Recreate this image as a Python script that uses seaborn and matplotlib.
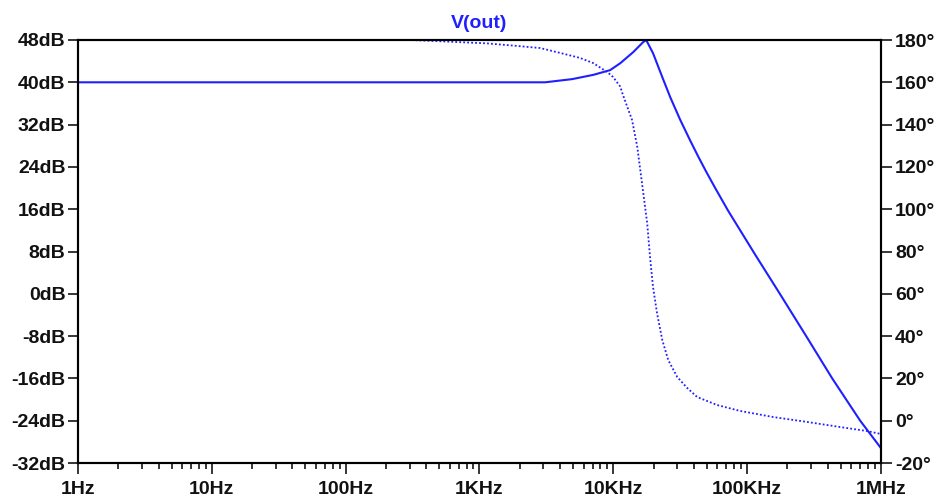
import matplotlib
matplotlib.use("Agg")
import matplotlib.pyplot as plt
import pandas as pd
import seaborn as sns
from matplotlib.ticker import FixedLocator, FixedFormatter, LogLocator, NullFormatter

# ---- data (LTspice Bode plot of V(out)) ----
freq_mag = [1, 3090, 4920, 7060, 9460, 11250, 14070, 16700, 17600, 19800, 23200,
            26600, 31600, 37500, 43000, 49400, 57700, 72100, 114800, 176500,
            276000, 432000, 699000, 1000000]
mag_db = [40.0, 40.0, 40.6, 41.4, 42.3, 43.6, 45.7, 47.6, 48.0, 45.5, 41.0,
          37.2, 32.9, 29.0, 26.0, 23.1, 20.0, 15.7, 7.4, -0.1,
          -8.0, -16.0, -24.0, -29.2]

freq_phase = [1, 300, 508, 1140, 1750, 2840, 4000, 5650, 7060, 8990, 9960, 11250,
              11800, 13800, 15100, 16400, 17900, 18800, 19800, 21200, 23200,
              25700, 30000, 35600, 42300, 59700, 88700, 156000, 281000, 496000,
              789000, 1000000]
phase_deg = [180.0, 180.0, 179.4, 178.4, 177.4, 176.2, 173.9, 171.5, 169.1, 164.9,
             162.5, 158.0, 154.0, 142.2, 129.4, 112.0, 93.5, 77.4, 63.2, 50.9,
             38.2, 28.7, 20.7, 15.5, 11.2, 7.4, 4.6, 1.75, -0.6, -3.0, -4.9, -6.3]

x_tick_vals = [1, 10, 100, 1e3, 1e4, 1e5, 1e6]
x_tick_labels = ["1Hz", "10Hz", "100Hz", "1KHz", "10KHz", "100KHz", "1MHz"]
db_ticks = [-32, -24, -16, -8, 0, 8, 16, 24, 32, 40, 48]
db_labels = ["-32dB", "-24dB", "-16dB", "-8dB", "0dB", "8dB", "16dB", "24dB",
             "32dB", "40dB", "48dB"]
deg_ticks = [-20, 0, 20, 40, 60, 80, 100, 120, 140, 160, 180]
deg_labels = ["-20°", "0°", "20°", "40°", "60°", "80°", "100°", "120°", "140°",
              "160°", "180°"]
title_text = "V(out)"

BLUE = "#1f1fff"

sns.set_theme(style="white")
plt.rcParams["font.family"] = ["Liberation Sans", "DejaVu Sans"]
plt.rcParams["font.weight"] = "bold"

fig = plt.figure(figsize=(9.4, 4.99), dpi=100)
fig.patch.set_facecolor("white")
ax = fig.add_axes([78 / 940, 36 / 499, (881 - 78) / 940, 423 / 499])
ax.set_xscale("log")

df_mag = pd.DataFrame({"f": freq_mag, "db": mag_db})
df_ph = pd.DataFrame({"f": freq_phase, "deg": phase_deg})

sns.lineplot(data=df_mag, x="f", y="db", ax=ax, color=BLUE, linewidth=1.5)
ax2 = ax.twinx()
sns.lineplot(data=df_ph, x="f", y="deg", ax=ax2, color=BLUE, linewidth=1.3,
             linestyle=(0, (1, 1.2)))

ax.set_xlim(1, 1e6)
ax.set_ylim(-32, 48)
ax2.set_ylim(-20, 180)

ax.set_xlabel("")
ax.set_ylabel("")
ax2.set_ylabel("")
ax2.set_xlabel("")

FS = 14
ax.xaxis.set_major_locator(FixedLocator(x_tick_vals))
ax.xaxis.set_major_formatter(FixedFormatter(x_tick_labels))
ax.xaxis.set_minor_locator(LogLocator(base=10, subs=range(2, 10), numticks=20))
ax.xaxis.set_minor_formatter(NullFormatter())
ax.yaxis.set_major_locator(FixedLocator(db_ticks))
ax.yaxis.set_major_formatter(FixedFormatter(db_labels))
ax2.yaxis.set_major_locator(FixedLocator(deg_ticks))
ax2.yaxis.set_major_formatter(FixedFormatter(deg_labels))

ax.tick_params(axis="x", which="major", direction="out", length=8, width=1.1,
               color="black", pad=5, labelsize=FS, bottom=True, top=False)
ax.tick_params(axis="x", which="minor", direction="out", length=4, width=1.1,
               color="black", bottom=True, top=False)
ax.tick_params(axis="y", which="major", direction="out", length=7, width=1.1,
               color="black", pad=2, labelsize=FS, left=True, right=False)
ax2.tick_params(axis="y", which="major", direction="out", length=8, width=1.1,
                color="black", pad=2, labelsize=FS, right=True, left=False)

for a in (ax, ax2):
    for lbl in a.get_xticklabels() + a.get_yticklabels():
        lbl.set_fontweight("bold")
        lbl.set_color("#111111")
    for s in a.spines.values():
        s.set_visible(True)
        s.set_color("black")
        s.set_linewidth(1.5)
    a.grid(False)

ax.set_title(title_text, color=BLUE, fontsize=FS, fontweight="bold", pad=9)

fig.savefig("out.png", dpi=100, facecolor="white")
